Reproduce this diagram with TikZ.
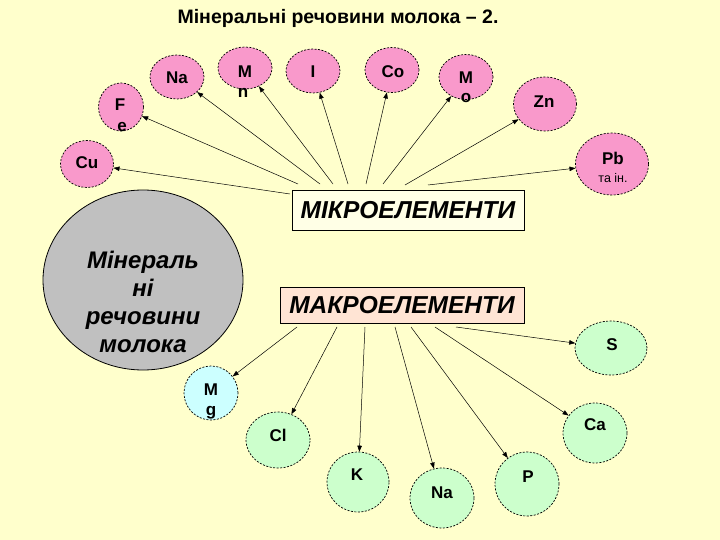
\documentclass[tikz,border=0pt]{standalone}
\usepackage{fontspec}
\setmainfont{Liberation Sans}
\usetikzlibrary{shapes.geometric,arrows.meta,calc}
\definecolor{bgc}{HTML}{FFFFCC}
\definecolor{pinkc}{HTML}{F999CB}
\definecolor{greenc}{HTML}{CCFFCC}
\definecolor{bluec}{HTML}{CCFFFF}
\definecolor{grayc}{HTML}{C0C0C0}
\definecolor{mikroc}{HTML}{FFFFE6}
\definecolor{makroc}{HTML}{FFE4D4}
\tikzset{
  elnode/.style={ellipse, draw, dash pattern=on 2pt off 1.5pt, line width=0.7pt, inner sep=0pt},
  pinkel/.style={elnode, fill=pinkc},
  greenel/.style={elnode, fill=greenc},
  lbl/.style={font=\fontsize{17}{19}\selectfont\bfseries, inner sep=0pt},
  small/.style={font=\fontsize{12.5}{14}\selectfont, inner sep=0pt},
  arr/.style={-{Triangle[length=6pt,width=4.5pt]}, line width=0.5pt},
  boxnode/.style={draw, line width=0.7pt, inner sep=0pt, font=\fontsize{24.5}{27}\selectfont\bfseries\itshape}
}
\begin{document}
\begin{tikzpicture}[x=1pt,y=-1pt]
\fill[bgc] (0,0) rectangle (720,540);
\useasboundingbox (0,0) rectangle (720,540);

% title
\node[inner sep=0pt, font=\fontsize{19.5}{22}\selectfont\bfseries] (title) at (338,18) {Мінеральні речовини молока – 2.};

% big circle
\node[ellipse, draw, fill=grayc, line width=0.8pt, minimum width=200pt, minimum height=180pt, inner sep=0pt] (main) at (143,280) {};
\node[inner sep=0pt, align=center, font=\fontsize{24}{28}\selectfont\bfseries\itshape] (maintxt) at (143,302) {Мінераль\\ні\\речовини\\молока};

% boxes
\node[boxnode, fill=mikroc, minimum width=232pt, minimum height=40pt] (mik) at (408,210) {МІКРОЕЛЕМЕНТИ};
\node[boxnode, fill=makroc, minimum width=244pt, minimum height=36pt] (mak) at (402,305) {МАКРОЕЛЕМЕНТИ};

% pink nodes
\node[pinkel, minimum width=53pt, minimum height=47pt] (cu) at (87,164) {};
\node[pinkel, minimum width=45pt, minimum height=48pt] (fe) at (121,107) {};
\node[pinkel, minimum width=54pt, minimum height=44pt] (na) at (177,77) {};
\node[pinkel, minimum width=54pt, minimum height=42pt] (mn) at (245,68) {};
\node[pinkel, minimum width=54pt, minimum height=44pt] (io) at (313,71) {};
\node[pinkel, minimum width=54pt, minimum height=45pt] (co) at (392,70) {};
\node[pinkel, minimum width=54pt, minimum height=45pt] (mo) at (466,77) {};
\node[pinkel, minimum width=63pt, minimum height=54pt] (zn) at (545,104) {};
\node[pinkel, minimum width=73pt, minimum height=62pt] (pb) at (612,164) {};

\node[lbl] (tcu) at (87,163) {Cu};
\node[lbl] (tfe1) at (120,105) {F};
\node[lbl] (tfe2) at (122,127) {e};
\node[lbl] (tna) at (177,78) {Na};
\node[lbl] (tmn1) at (245,72) {M};
\node[lbl] (tmn2) at (243,93) {n};
\node[lbl] (tio) at (313,72) {I};
\node[lbl] (tco) at (393,72) {Co};
\node[lbl] (tmo1) at (466,78) {M};
\node[lbl] (tmo2) at (466,98) {o};
\node[lbl] (tzn) at (544,102) {Zn};
\node[lbl] (tpb) at (613,158) {Pb};
\node[small] (tpb2) at (613,178) {та ін.};

% green nodes
\node[elnode, fill=bluec, minimum width=54pt, minimum height=54pt] (mg) at (211,393) {};
\node[greenel, minimum width=64pt, minimum height=56pt] (cl) at (278,440) {};
\node[greenel, minimum width=62pt, minimum height=60pt] (kk) at (358,482) {};
\node[greenel, minimum width=64pt, minimum height=60pt] (na2) at (442,498) {};
\node[greenel, minimum width=64pt, minimum height=64pt] (pp) at (527,484) {};
\node[greenel, minimum width=64pt, minimum height=60pt] (ca) at (595,433) {};
\node[greenel, minimum width=72pt, minimum height=54pt] (ss) at (611,348) {};

\node[lbl] (tmg1) at (211,390) {M};
\node[lbl] (tmg2) at (211,413) {g};
\node[lbl] (tcl) at (278,435) {Cl};
\node[lbl] (tk) at (357,475) {K};
\node[lbl] (tna2) at (442,493) {Na};
\node[lbl] (tp) at (528,477) {P};
\node[lbl] (tca) at (595,425) {Ca};
\node[lbl] (ts) at (612,345) {S};

% arrow start points
\coordinate (ms1) at (290,194);
\coordinate (ms2) at (298,184);
\coordinate (ms3) at (320,184);
\coordinate (ms4) at (333,184);
\coordinate (ms5) at (348,184);
\coordinate (ms6) at (366,184);
\coordinate (ms7) at (383,184);
\coordinate (ms8) at (405,185);
\coordinate (ms9) at (428,185);

\coordinate (xs1) at (297,327);
\coordinate (xs2) at (337,327);
\coordinate (xs3) at (365,327);
\coordinate (xs4) at (395,327);
\coordinate (xs5) at (411,327);
\coordinate (xs6) at (435,327);
\coordinate (xs7) at (456,327);

\draw[arr] (ms1) -- (cu);
\draw[arr] (ms2) -- (fe);
\draw[arr] (ms3) -- (na);
\draw[arr] (ms4) -- (mn);
\draw[arr] (ms5) -- (io);
\draw[arr] (ms6) -- (co);
\draw[arr] (ms7) -- (mo);
\draw[arr] (ms8) -- (zn);
\draw[arr] (ms9) -- (pb);

\draw[arr] (xs1) -- (mg);
\draw[arr] (xs2) -- (cl);
\draw[arr] (xs3) -- (kk);
\draw[arr] (xs4) -- (na2);
\draw[arr] (xs5) -- (pp);
\draw[arr] (xs6) -- (ca);
\draw[arr] (xs7) -- (ss);
\end{tikzpicture}
\end{document}
